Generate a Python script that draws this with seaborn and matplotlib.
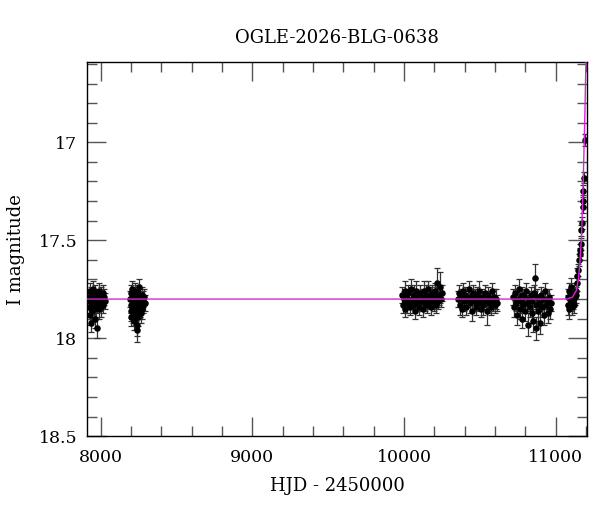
import numpy as np
import pandas as pd
import seaborn as sns
import matplotlib
matplotlib.use("Agg")
import matplotlib.pyplot as plt
from matplotlib.ticker import MultipleLocator

# OGLE photometry (HJD - 2450000, I mag, error)
t1 = [7921, 7924, 7927, 7930, 7933, 7936, 7939, 7942, 7945, 7948, 7951, 7954, 7957, 7960, 7963, 7966,
      7969, 7972, 7975, 7979, 7983, 7987, 7991, 7995, 7999, 8003, 8008, 8013, 8018, 8024, 8030]
m1 = [17.79, 17.84, 17.76, 17.88, 17.81, 17.92, 17.78, 17.83, 17.86, 17.75, 17.82, 17.80, 17.85, 17.77, 17.90, 17.81,
      17.84, 17.79, 17.83, 17.95, 17.80, 17.76, 17.85, 17.82, 17.78, 17.84, 17.80, 17.77, 17.83, 17.79, 17.81]
e1 = [0.04, 0.05, 0.04, 0.05, 0.04, 0.05, 0.04, 0.04, 0.05, 0.04, 0.04, 0.04, 0.05, 0.04, 0.05, 0.04,
      0.05, 0.04, 0.04, 0.05, 0.04, 0.04, 0.05, 0.04, 0.04, 0.05, 0.04, 0.04, 0.04, 0.04, 0.04]

t2 = [8195, 8197, 8199, 8201, 8203, 8205, 8207, 8209, 8211, 8213, 8215, 8217, 8219, 8221, 8223, 8225,
      8227, 8229, 8231, 8233, 8235, 8237, 8239, 8241, 8243, 8245, 8247, 8249, 8252, 8255, 8258, 8261,
      8264, 8267, 8270, 8273, 8276, 8280, 8285, 8290]
m2 = [17.80, 17.86, 17.77, 17.83, 17.89, 17.79, 17.84, 17.75, 17.82, 17.87, 17.80, 17.78, 17.85, 17.91, 17.81, 17.76,
      17.84, 17.88, 17.79, 17.83, 17.86, 17.93, 17.80, 17.96, 17.82, 17.77, 17.85, 17.89, 17.81, 17.74, 17.84, 17.79,
      17.87, 17.82, 17.78, 17.85, 17.80, 17.83, 17.79, 17.82]
e2 = [0.04, 0.05, 0.04, 0.04, 0.05, 0.04, 0.05, 0.04, 0.04, 0.05, 0.04, 0.04, 0.05, 0.05, 0.04, 0.04,
      0.05, 0.05, 0.04, 0.04, 0.05, 0.06, 0.04, 0.06, 0.04, 0.04, 0.05, 0.05, 0.04, 0.04, 0.05, 0.04,
      0.05, 0.04, 0.04, 0.05, 0.04, 0.04, 0.04, 0.04]

t3 = [9985, 9991, 9997, 10003, 10009, 10015, 10021, 10027, 10033, 10039, 10045, 10051, 10057, 10063, 10069,
      10075, 10081, 10087, 10093, 10099, 10105, 10111, 10117, 10123, 10129, 10135, 10141, 10147, 10153, 10159,
      10165, 10171, 10177, 10183, 10189, 10195, 10201, 10207, 10213, 10219, 10225, 10231, 10237, 10243, 10248]
m3 = [17.78, 17.83, 17.80, 17.76, 17.85, 17.79, 17.82, 17.77, 17.81, 17.84, 17.75, 17.80, 17.83, 17.78, 17.86,
      17.79, 17.76, 17.82, 17.80, 17.84, 17.77, 17.81, 17.79, 17.85, 17.76, 17.82, 17.80, 17.78, 17.83, 17.75,
      17.81, 17.79, 17.84, 17.77, 17.80, 17.82, 17.76, 17.83, 17.79, 17.72, 17.81, 17.78, 17.74, 17.80, 17.77]
e3 = [0.04, 0.04, 0.04, 0.05, 0.04, 0.04, 0.05, 0.04, 0.04, 0.04, 0.05, 0.04, 0.04, 0.05, 0.04,
      0.04, 0.05, 0.04, 0.04, 0.04, 0.04, 0.05, 0.04, 0.04, 0.05, 0.04, 0.04, 0.05, 0.04, 0.04,
      0.04, 0.05, 0.04, 0.04, 0.05, 0.04, 0.04, 0.04, 0.05, 0.08, 0.04, 0.05, 0.08, 0.04, 0.04]

t4 = [10355, 10362, 10369, 10376, 10383, 10390, 10397, 10404, 10411, 10418, 10425, 10432, 10439, 10446,
      10453, 10460, 10467, 10474, 10481, 10488, 10495, 10502, 10509, 10516, 10523, 10530, 10537, 10543,
      10550, 10557, 10564, 10571, 10578, 10585, 10592, 10599, 10606, 10612]
m4 = [17.80, 17.77, 17.83, 17.79, 17.85, 17.76, 17.81, 17.78, 17.84, 17.80, 17.75, 17.82, 17.79, 17.86,
      17.77, 17.81, 17.80, 17.84, 17.78, 17.82, 17.76, 17.80, 17.85, 17.79, 17.83, 17.77, 17.81, 17.86,
      17.78, 17.82, 17.80, 17.84, 17.76, 17.81, 17.79, 17.83, 17.80, 17.82]
e4 = [0.04, 0.04, 0.05, 0.04, 0.04, 0.04, 0.05, 0.04, 0.04, 0.04, 0.04, 0.05, 0.04, 0.05,
      0.04, 0.04, 0.05, 0.04, 0.04, 0.04, 0.05, 0.04, 0.04, 0.04, 0.05, 0.04, 0.04, 0.07,
      0.04, 0.05, 0.04, 0.04, 0.04, 0.05, 0.04, 0.04, 0.05, 0.04]

t5 = [10720, 10726, 10732, 10738, 10744, 10750, 10756, 10762, 10768, 10774, 10780, 10786, 10792, 10798,
      10804, 10810, 10816, 10822, 10828, 10834, 10840, 10846, 10852, 10857, 10861, 10866, 10872, 10878,
      10884, 10890, 10896, 10902, 10908, 10914, 10920, 10926, 10932, 10940, 10948, 10955, 10962, 10970]
m5 = [17.79, 17.84, 17.77, 17.82, 17.88, 17.80, 17.75, 17.85, 17.81, 17.78, 17.90, 17.83, 17.79, 17.86,
      17.76, 17.82, 17.93, 17.80, 17.84, 17.78, 17.87, 17.81, 17.91, 17.77, 17.69, 17.95, 17.83, 17.79,
      17.86, 17.82, 17.92, 17.78, 17.84, 17.80, 17.88, 17.76, 17.83, 17.81, 17.87, 17.79, 17.85, 17.82]
e5 = [0.04, 0.05, 0.04, 0.04, 0.05, 0.04, 0.05, 0.05, 0.04, 0.04, 0.05, 0.04, 0.04, 0.05,
      0.04, 0.04, 0.06, 0.04, 0.05, 0.04, 0.05, 0.04, 0.06, 0.04, 0.07, 0.06, 0.04, 0.04,
      0.05, 0.04, 0.06, 0.04, 0.05, 0.04, 0.05, 0.04, 0.04, 0.04, 0.05, 0.04, 0.05, 0.04]

t6 = [11078, 11082, 11086, 11090, 11094, 11098, 11102, 11106, 11110, 11114, 11118, 11122, 11126, 11130,
      11134, 11138, 11142, 11147, 11151, 11156, 11160, 11165, 11169, 11171, 11176, 11178, 11180, 11184, 11191]
m6 = [17.79, 17.83, 17.76, 17.85, 17.80, 17.82, 17.74, 17.84, 17.78, 17.81, 17.77, 17.83, 17.79, 17.76,
      17.78, 17.72, 17.68, 17.65, 17.60, 17.57, 17.55, 17.52, 17.45, 17.41, 17.33, 17.30, 17.25, 17.18, 16.99]
e6 = [0.04, 0.05, 0.04, 0.05, 0.04, 0.04, 0.05, 0.04, 0.04, 0.04, 0.05, 0.04, 0.04, 0.04,
      0.04, 0.04, 0.04, 0.03, 0.03, 0.03, 0.03, 0.03, 0.03, 0.03, 0.03, 0.03, 0.03, 0.03, 0.03]

# microlensing model curve
model_t = [7900, 11073, 11110, 11136, 11150, 11158, 11169, 11180, 11191, 11198, 11202]
model_m = [17.80, 17.80, 17.79, 17.755, 17.69, 17.617, 17.485, 17.21, 16.87, 16.60, 16.40]

obs = pd.DataFrame({
    "hjd": t1 + t2 + t3 + t4 + t5 + t6,
    "mag": m1 + m2 + m3 + m4 + m5 + m6,
    "err": e1 + e2 + e3 + e4 + e5 + e6,
})
model = pd.DataFrame({"hjd": model_t, "mag": model_m})

sns.set_style("ticks")
plt.rcParams["font.family"] = ["DejaVu Serif"]
plt.rcParams["text.color"] = "black"
plt.rcParams["axes.labelcolor"] = "black"
plt.rcParams["xtick.labelcolor"] = "black"
plt.rcParams["ytick.labelcolor"] = "black"

fig = plt.figure(figsize=(6, 5.12), dpi=100)
ax = fig.add_axes([0.145, 0.148, 0.834, 0.731])

ax.errorbar(obs["hjd"], obs["mag"], yerr=obs["err"], fmt="none",
            ecolor="#333333", elinewidth=0.9, capsize=2.2, capthick=0.9, zorder=2)
sns.scatterplot(data=obs, x="hjd", y="mag", ax=ax, color="black", s=22,
                edgecolor="black", linewidth=0, zorder=3)
sns.lineplot(data=model, x="hjd", y="mag", ax=ax, color="#dd22dd", lw=1.0,
             sort=False, zorder=4)

ax.set_xlim(7910, 11208)
ax.set_ylim(18.5, 16.59)

ax.xaxis.set_major_locator(MultipleLocator(1000))
ax.xaxis.set_minor_locator(MultipleLocator(200))
ax.yaxis.set_major_locator(MultipleLocator(0.5))
ax.yaxis.set_minor_locator(MultipleLocator(0.1))
ax.yaxis.set_major_formatter(plt.FuncFormatter(lambda v, p: f"{v:g}"))
ax.tick_params(which="both", direction="in", top=True, right=True,
               color="#555555", width=1.0, labelsize=12.5, labelcolor="black")
ax.tick_params(which="major", length=14)
ax.tick_params(which="minor", length=7)
ax.tick_params(axis="x", pad=9)
ax.tick_params(axis="y", pad=7)
for s in ax.spines.values():
    s.set_linewidth(1.0)
    s.set_color("black")

ax.set_title("OGLE-2026-BLG-0638", fontsize=13, pad=14, color="black")
ax.set_xlabel("HJD - 2450000", fontsize=13, labelpad=8, color="black")
ax.set_ylabel("I magnitude", fontsize=13, labelpad=10, color="black")

fig.savefig("out.png", dpi=100)
